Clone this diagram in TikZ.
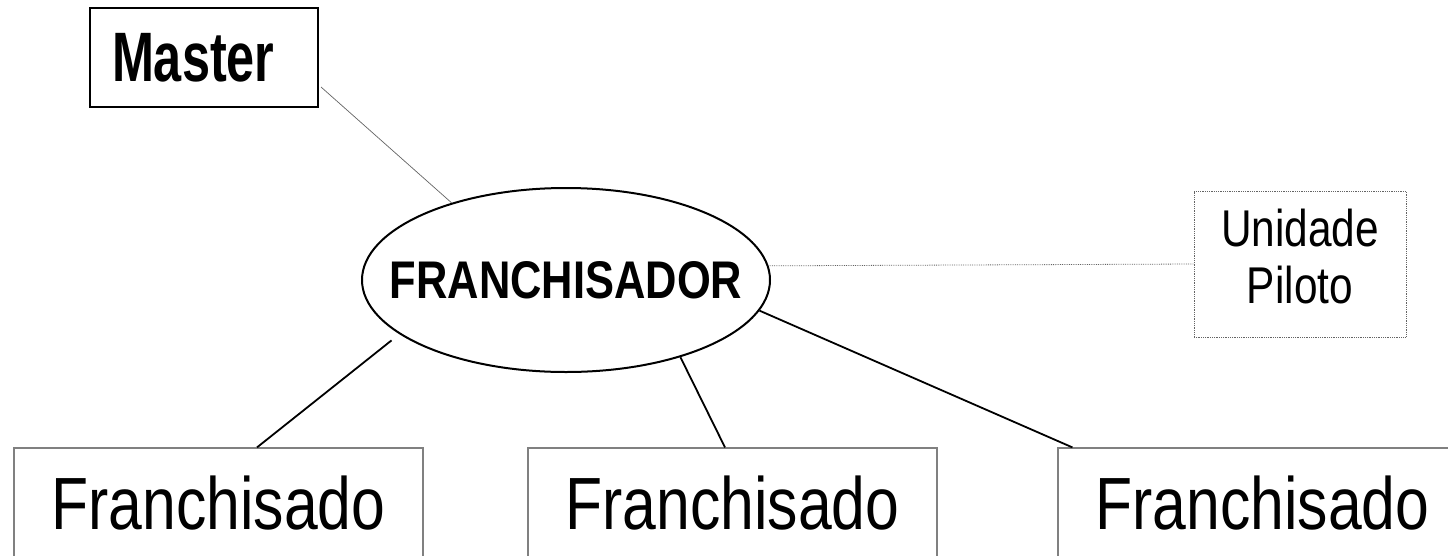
\documentclass[tikz,border=0pt]{standalone}
\usepackage{fontspec}
\setmainfont{Liberation Sans}[FakeStretch=0.82]
\newfontfamily\masterfont{Liberation Sans}[FakeStretch=0.72]
\usetikzlibrary{shapes.geometric,calc}
\definecolor{boxgray}{RGB}{128,128,128}
\definecolor{linegray}{RGB}{100,100,100}
\tikzset{
  masterbox/.style={draw=black, line width=2pt, minimum width=228pt, minimum height=99pt,
    inner xsep=22pt, text width=184pt, align=left, font=\masterfont\bfseries\fontsize{70}{72}\selectfont},
  centerell/.style={draw=black, line width=2pt, ellipse, minimum width=408pt, minimum height=184pt,
    inner sep=0pt, font=\bfseries\fontsize{53}{58}\selectfont},
  pilotbox/.style={draw=linegray, densely dotted, line width=0.8pt, minimum width=212pt, minimum height=146pt,
    inner sep=0pt, font=\fontsize{51.7}{57}\selectfont},
  franbox/.style={draw=boxgray, line width=1.2pt, minimum width=409pt, minimum height=111pt,
    inner sep=0pt, font=\fontsize{74}{80}\selectfont},
  thinlink/.style={draw=linegray, line width=0.7pt},
  dotlink/.style={draw=linegray, densely dotted, line width=0.8pt},
  solidlink/.style={draw=black, line width=1.8pt}
}
\begin{document}
\begin{tikzpicture}[x=1pt,y=-1pt]
\useasboundingbox (0,0) rectangle (1448,555);
\fill[white] (0,0) rectangle (1448,555);
\clip (0,0) rectangle (1448,555);

\node[masterbox] (m) at (204,57.5) {Master};
\node[centerell] (fr) at (566,280) {\makebox[0pt]{FRANCHISADOR}};
\node[pilotbox] (pu) at (1300,264) {\raisebox{4pt}{\begin{tabular}{@{}c@{}}Unidade\\Piloto\end{tabular}}};
\node[franbox] (f1) at (218.5,503.5) {Franchisado};
\node[franbox] (f2) at (732.5,503.5) {Franchisado};
\node[franbox] (f3) at (1262.5,503.5) {Franchisado};

\draw[thinlink] ($(m.east)+(2,29.5)$) -- (fr.146.3);
\draw[dotlink] (fr.4) -- (pu.west);
\draw[solidlink, shorten <=10pt] (fr.198.5) -- ($(f1.north)+(38.5,0)$);
\draw[solidlink] (fr.326.3) -- ($(f2.north)+(-7.5,0)$);
\draw[solidlink] (fr.-9.5) -- ($(f3.north west)+(15,0)$);
\end{tikzpicture}
\end{document}
